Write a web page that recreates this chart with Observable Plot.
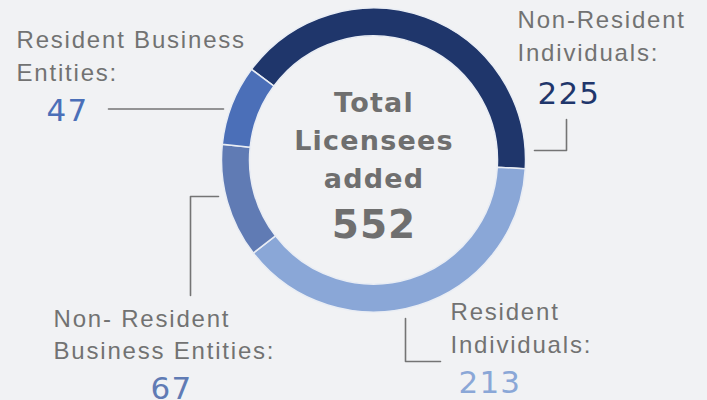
<!DOCTYPE html>
<html><head><meta charset="utf-8">
<script src="https://cdn.jsdelivr.net/npm/d3@7"></script>
<script src="https://cdn.jsdelivr.net/npm/@observablehq/plot@0.6"></script>
<style>
html,body{margin:0;padding:0;background:#f1f2f4;}
#chart svg{display:block;background:#f1f2f4;}
</style></head><body><div id="chart"></div>
<script>
// ---- data ----
const categories = ["Non-Resident Individuals", "Resident Individuals", "Non- Resident Business Entities", "Resident Business Entities"];
const values = [225, 213, 67, 47];
const labelLines = [["Non-Resident", "Individuals:"], ["Resident", "Individuals:"], ["Non- Resident", "Business Entities:"], ["Resident Business", "Entities:"]];
const colors = ["#1f366b", "#8aa7d7", "#607bb4", "#4b6fb8"];
const centerLines = ["Total", "Licensees", "added"];

// ---- layout ----
const W = 707, H = 400;
const cx = 373.5, cy = 160, rOuter = 152, rInner = 124;
const startAngle = -53.4 * Math.PI / 180;
const labelStep = 32.5, centerStep = 38;
// label anchors: [textX, firstBaselineY, numX, numY, numAnchor]
const labelLayout = [
  [517, 27.5, 537, 103, "start"],
  [450, 319.5, 458, 392, "start"],
  [53, 326, 171, 398, "middle"],
  [16, 47.5, 46, 120, "start"]
];
const connectorLayout = [
  [[534, 150], [566, 150], [566, 119]],
  [[405, 318], [405, 361], [440, 361]],
  [[218, 196], [190, 196], [190, 295]],
  [[108, 108.5], [223, 108.5]]
];

const data = categories.map((c, i) => ({
  category: c, value: values[i],
  nx: labelLayout[i][2], ny: labelLayout[i][3], na: labelLayout[i][4]
}));
const lineRows = categories.flatMap((c, i) => labelLines[i].map((t, j) => ({
  category: c, text: t, x: labelLayout[i][0], y: labelLayout[i][1] + j * labelStep
})));
const centerRows = centerLines.map((t, j) => ({text: t, x: cx, y: 111.5 + j * centerStep}));
const total = d3.sum(values);
const connectors = connectorLayout.flatMap((pts, i) => pts.map(([x, y]) => ({category: categories[i], x, y})));

function donut(rows) {
  return (index, scales) => {
    const pie = d3.pie().value(d => d.value).sort(null).startAngle(startAngle).endAngle(startAngle + 2 * Math.PI);
    const arc = d3.arc().innerRadius(rInner).outerRadius(rOuter);
    const g = d3.create("svg:g").attr("aria-label", "donut")
      .attr("transform", `translate(${scales.x(cx)},${scales.y(cy)})`);
    g.selectAll("path").data(pie(rows)).join("path")
      .attr("d", arc)
      .attr("fill", d => scales.color(d.data.category))
      .attr("stroke", "#e9edf4")
      .attr("stroke-width", 1.5);
    return g.node();
  };
}

const labelFont = "Liberation Sans, Arial, sans-serif";
const numFont = "DejaVu Sans, sans-serif";

const chart = Plot.plot({
  width: W, height: H, margin: 0,
  x: {type: "identity"}, y: {type: "identity"},
  color: {domain: categories, range: colors},
  style: {background: "#f1f2f4"},
  marks: [
    donut(data),
    Plot.line(connectors, {x: "x", y: "y", z: "category", stroke: "#747474", strokeWidth: 1.6, curve: "linear"}),
    Plot.text(lineRows, {x: "x", y: "y", text: "text", textAnchor: "start", lineAnchor: "bottom",
      fontSize: 24, fill: "#727272", fontFamily: labelFont}),
    Plot.text(data, {x: "nx", y: "ny", text: d => String(d.value), textAnchor: "start", lineAnchor: "bottom",
      fontSize: 31, fill: "category", fontFamily: numFont,
      filter: d => d.na === "start"}),
    Plot.text(data, {x: "nx", y: "ny", text: d => String(d.value), textAnchor: "middle", lineAnchor: "bottom",
      fontSize: 31, fill: "category", fontFamily: numFont,
      filter: d => d.na === "middle"}),
    Plot.text(centerRows, {x: "x", y: "y", text: "text", textAnchor: "middle", lineAnchor: "bottom",
      fontSize: 27, fontWeight: 700, fill: "#6f6f6f", fontFamily: numFont}),
    Plot.text([total], {x: () => cx, y: () => 237, text: d => String(d), textAnchor: "middle", lineAnchor: "bottom",
      fontSize: 39, fontWeight: 700, fill: "#6f6f6f", fontFamily: numFont})
  ]
});
// letter spacing per text layer (labels, numbers, numbers, center, total)
const spacing = ["1.8px", "1.2px", "1.2px", "1.2px", "1px"];
chart.querySelectorAll('g[aria-label="text"]').forEach((g, i) => {
  if (spacing[i]) g.setAttribute("letter-spacing", spacing[i]);
  // express each text's translate as explicit x/y attributes
  g.querySelectorAll("text").forEach(t => {
    const m = /translate\(([-\d.e]+),\s*([-\d.e]+)\)/.exec(t.getAttribute("transform") || "");
    if (m) {
      t.removeAttribute("transform");
      t.setAttribute("x", m[1]);
      t.setAttribute("y", m[2]);
    }
  });
});
document.getElementById("chart").append(chart);
</script></body></html>
